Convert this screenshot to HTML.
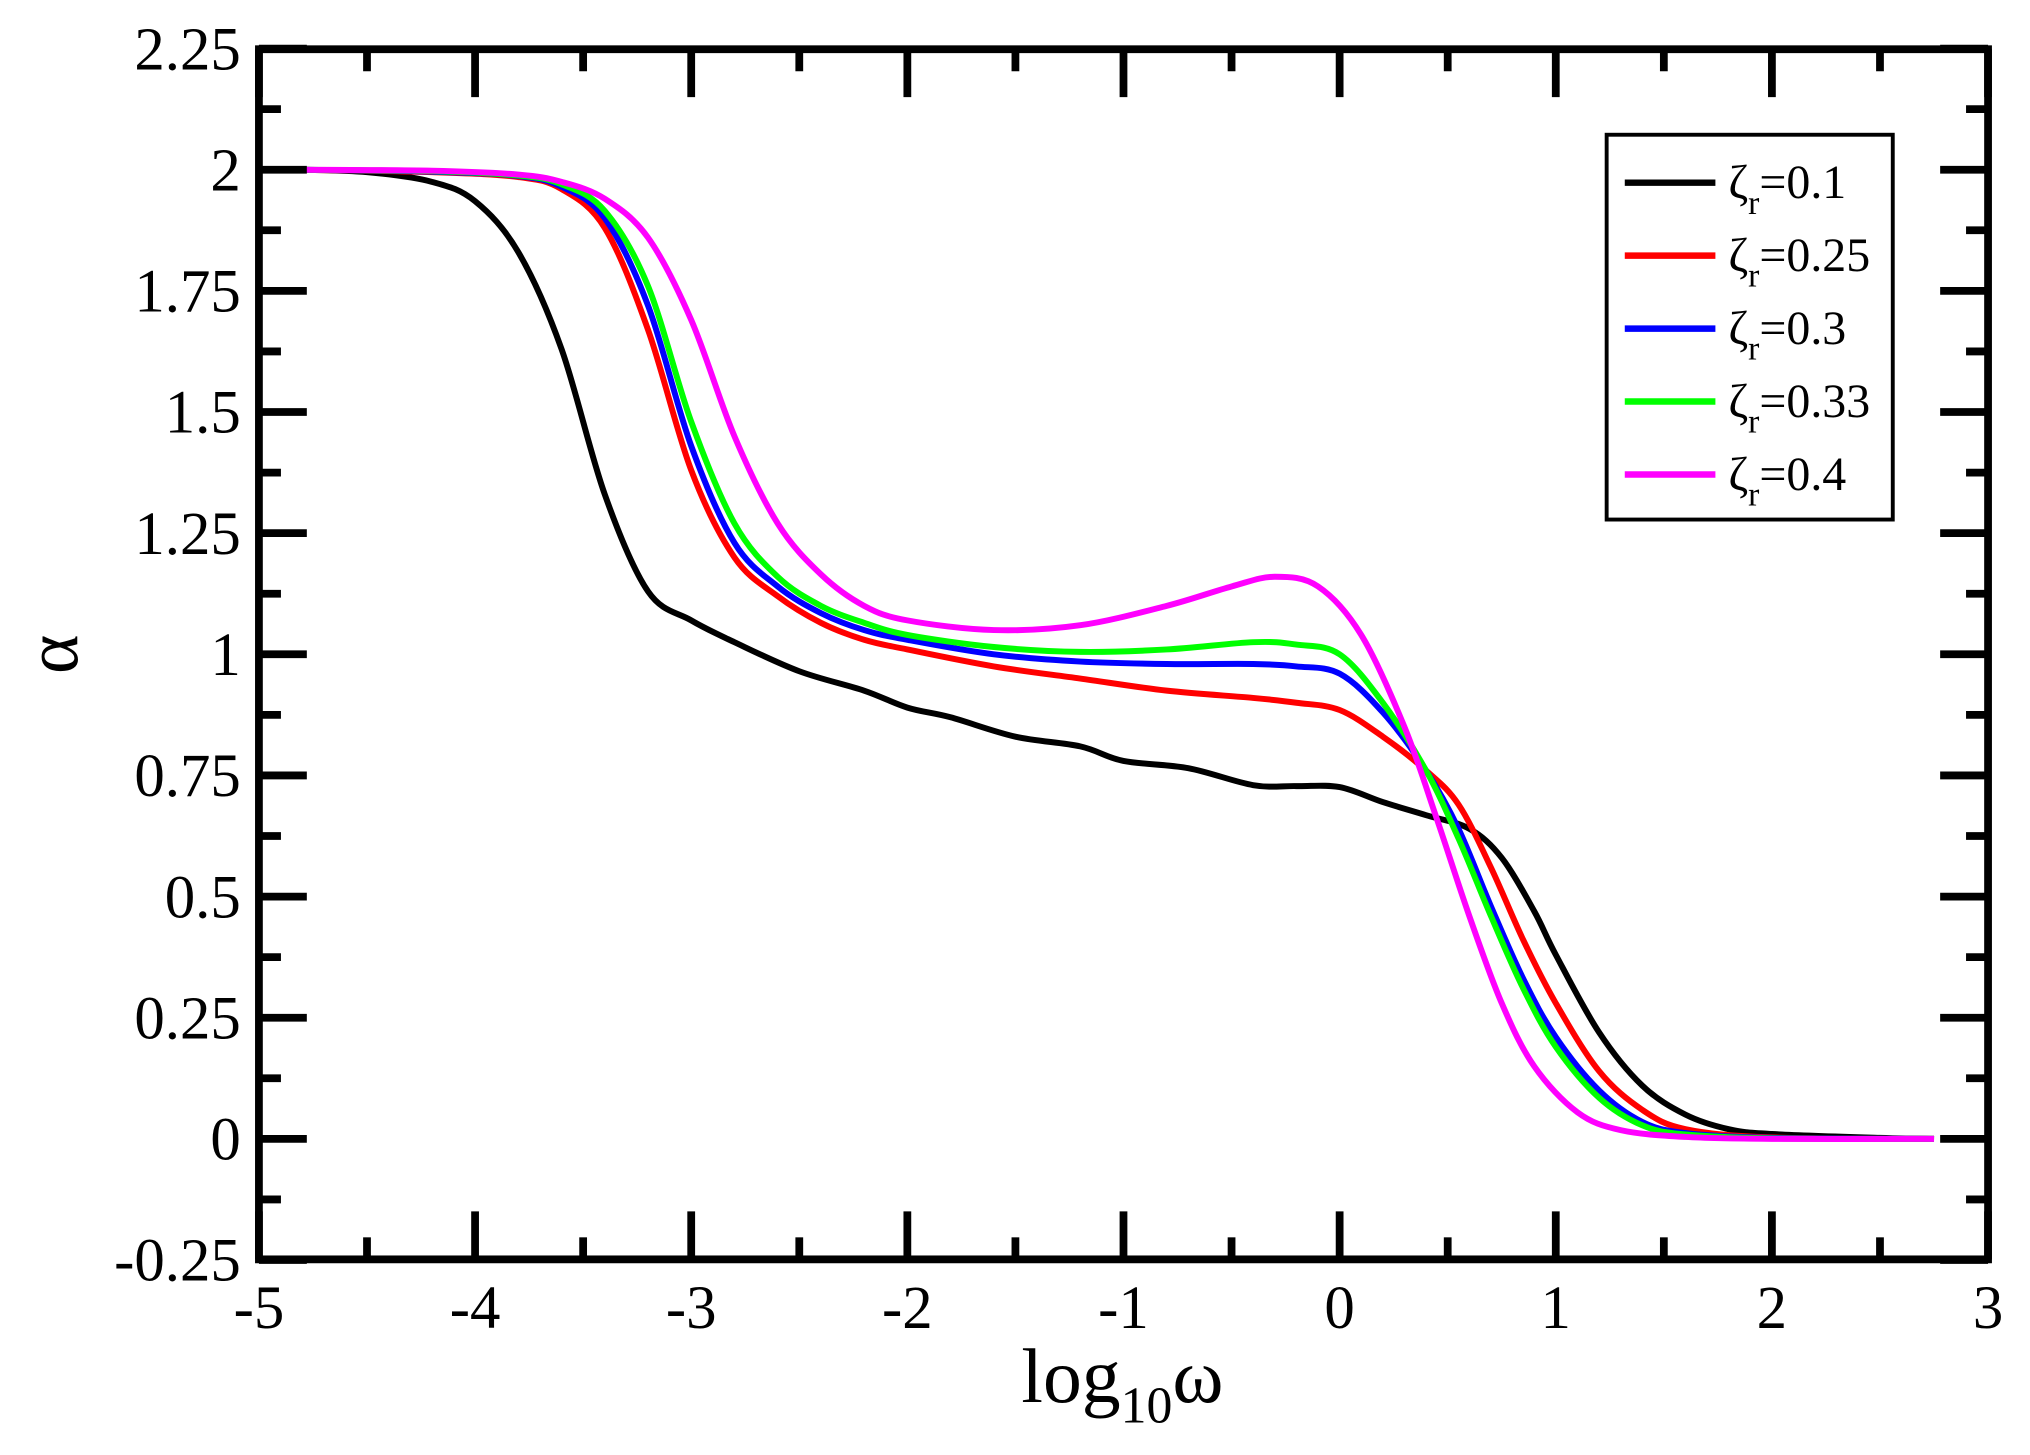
<!DOCTYPE html>
<html><head><meta charset="utf-8"><style>
html,body{margin:0;padding:0;background:#fff;}
svg{display:block;}
text{font-family:"Liberation Serif","DejaVu Serif",serif;fill:#000;}
</style></head><body>
<svg id="s" width="2030" height="1455" viewBox="0 0 1568 1123" preserveAspectRatio="none" xmlns="http://www.w3.org/2000/svg">
<g id="curves" fill="none" stroke-width="4.6" stroke-linejoin="round"></g>
<g id="axes" stroke="#000" fill="none"></g>
<g id="labels" font-size="47"></g>
<text x="867" y="1082" font-size="60" text-anchor="middle">log<tspan font-size="40" dy="16">10</tspan><tspan dy="-16">ω</tspan></text>
<text transform="translate(60,505) rotate(-90)" font-size="58" text-anchor="middle">α</text>
<rect x="1241" y="104" width="221" height="297" fill="#fff" stroke="#000" stroke-width="3"/>
<g id="legend"></g>
</svg>
<script>
var NS="http://www.w3.org/2000/svg";
function X(v){return 200+(v+5)*166.95;}
function Y(v){return 879-v*374;}
function el(p,t,a,txt){var e=document.createElementNS(NS,t);for(var k in a)e.setAttribute(k,a[k]);if(txt!=null)e.textContent=txt;p.appendChild(e);return e;}
var data={
"#000000":[[-4.8,2],[-4.5,1.995],[-4.2,1.975],[-4,1.935],[-3.8,1.83],[-3.6,1.63],[-3.4,1.33],[-3.2,1.13],[-3,1.07],[-2.8,1.025],[-2.5,0.965],[-2.2,0.925],[-2,0.89],[-1.8,0.87],[-1.5,0.83],[-1.2,0.81],[-1,0.78],[-0.7,0.765],[-0.4,0.73],[-0.2,0.728],[0,0.726],[0.2,0.695],[0.4,0.668],[0.6,0.64],[0.75,0.58],[0.9,0.47],[1.0,0.38],[1.2,0.22],[1.4,0.11],[1.6,0.05],[1.8,0.02],[2,0.01],[2.5,0.002],[2.75,0]],
"#ff0000":[[-4.8,2],[-4.2,1.995],[-3.8,1.985],[-3.6,1.96],[-3.4,1.88],[-3.2,1.67],[-3.0,1.38],[-2.8,1.2],[-2.6,1.12],[-2.4,1.065],[-2.2,1.03],[-2,1.01],[-1.6,0.975],[-1.2,0.95],[-0.8,0.925],[-0.4,0.91],[-0.2,0.9],[0,0.885],[0.2,0.83],[0.4,0.76],[0.55,0.69],[0.7,0.56],[0.85,0.41],[1,0.28],[1.2,0.14],[1.4,0.06],[1.6,0.02],[2,0.003],[2.75,0]],
"#0000ff":[[-4.8,2],[-4.2,1.996],[-3.8,1.987],[-3.6,1.965],[-3.4,1.9],[-3.2,1.72],[-3.0,1.43],[-2.8,1.23],[-2.6,1.14],[-2.4,1.085],[-2.2,1.05],[-2,1.03],[-1.6,1.0],[-1.2,0.985],[-0.8,0.98],[-0.4,0.98],[-0.2,0.975],[0,0.96],[0.2,0.88],[0.4,0.76],[0.55,0.64],[0.7,0.48],[0.85,0.33],[1,0.21],[1.2,0.1],[1.4,0.035],[1.6,0.012],[2,0.002],[2.75,0]],
"#00ff00":[[-4.8,2],[-4.2,1.997],[-3.8,1.988],[-3.6,1.97],[-3.4,1.915],[-3.2,1.76],[-3.0,1.48],[-2.8,1.27],[-2.6,1.16],[-2.4,1.1],[-2.2,1.065],[-2,1.04],[-1.6,1.015],[-1.2,1.005],[-0.8,1.01],[-0.4,1.025],[-0.2,1.02],[0,1.0],[0.2,0.9],[0.4,0.76],[0.55,0.62],[0.7,0.46],[0.85,0.31],[1,0.19],[1.2,0.085],[1.4,0.028],[1.6,0.009],[2,0.001],[2.75,0]],
"#ff00ff":[[-4.8,2],[-4.2,1.998],[-3.8,1.99],[-3.6,1.975],[-3.4,1.94],[-3.2,1.86],[-3.0,1.69],[-2.8,1.45],[-2.6,1.27],[-2.4,1.165],[-2.2,1.1],[-2,1.07],[-1.6,1.05],[-1.2,1.06],[-0.8,1.1],[-0.5,1.14],[-0.3,1.16],[-0.1,1.14],[0.1,1.04],[0.3,0.85],[0.45,0.66],[0.6,0.46],[0.75,0.28],[0.9,0.15],[1.1,0.055],[1.3,0.018],[1.6,0.004],[2,0],[2.75,0]]};
var cg=document.getElementById("curves");
for(var c in data){var p=data[c].map(function(d){return [X(d[0]),Y(d[1])];});
 var s="M"+p[0][0]+","+p[0][1];
 for(var i=0;i<p.length-1;i++){var p0=p[i-1]||p[i],p1=p[i],p2=p[i+1],p3=p[i+2]||p2;
  s+=" C"+(p1[0]+(p2[0]-p0[0])/6)+","+(p1[1]+(p2[1]-p0[1])/6)+" "+(p2[0]-(p3[0]-p1[0])/6)+","+(p2[1]-(p3[1]-p1[1])/6)+" "+p2[0]+","+p2[1];}
 el(cg,"path",{d:s,stroke:c});}
var ax=document.getElementById("axes"),lb=document.getElementById("labels");
el(ax,"rect",{x:200,y:38,width:1335.6,height:934,"stroke-width":6});
for(var i=0;i<=16;i++){var v=-5+i*0.5,x=X(v),L=(i%2==0)?37:17;
 el(ax,"line",{x1:x,y1:972,x2:x,y2:972-L,"stroke-width":6});
 el(ax,"line",{x1:x,y1:38,x2:x,y2:38+L,"stroke-width":6});
 if(i%2==0)el(lb,"text",{x:x,y:1025,"text-anchor":"middle"},String(v));}
for(var i=0;i<=20;i++){var v=-0.25+i*0.125,y=Y(v),L=(i%2==0)?37:17;
 el(ax,"line",{x1:200,y1:y,x2:200+L,y2:y,"stroke-width":6});
 el(ax,"line",{x1:1535.6,y1:y,x2:1535.6-L,y2:y,"stroke-width":6});
 if(i%2==0){var t=(Math.round(v*100)/100).toString();el(lb,"text",{x:186,y:y+16,"text-anchor":"end"},t);}}
var lg=document.getElementById("legend"),names=["0.1","0.25","0.3","0.33","0.4"],cols=["#000000","#ff0000","#0000ff","#00ff00","#ff00ff"];
for(var i=0;i<5;i++){var y=141+i*56.3;
 el(lg,"line",{x1:1255,y1:y,x2:1325,y2:y,stroke:cols[i],"stroke-width":5});
 var t=el(lg,"text",{x:1335,y:y+12,"font-size":37});
 el(t,"tspan",{},"ζ");el(t,"tspan",{dy:12,"font-size":26},"r");el(t,"tspan",{dy:-12},"=0."+names[i].slice(2));}
</script>
</body></html>
